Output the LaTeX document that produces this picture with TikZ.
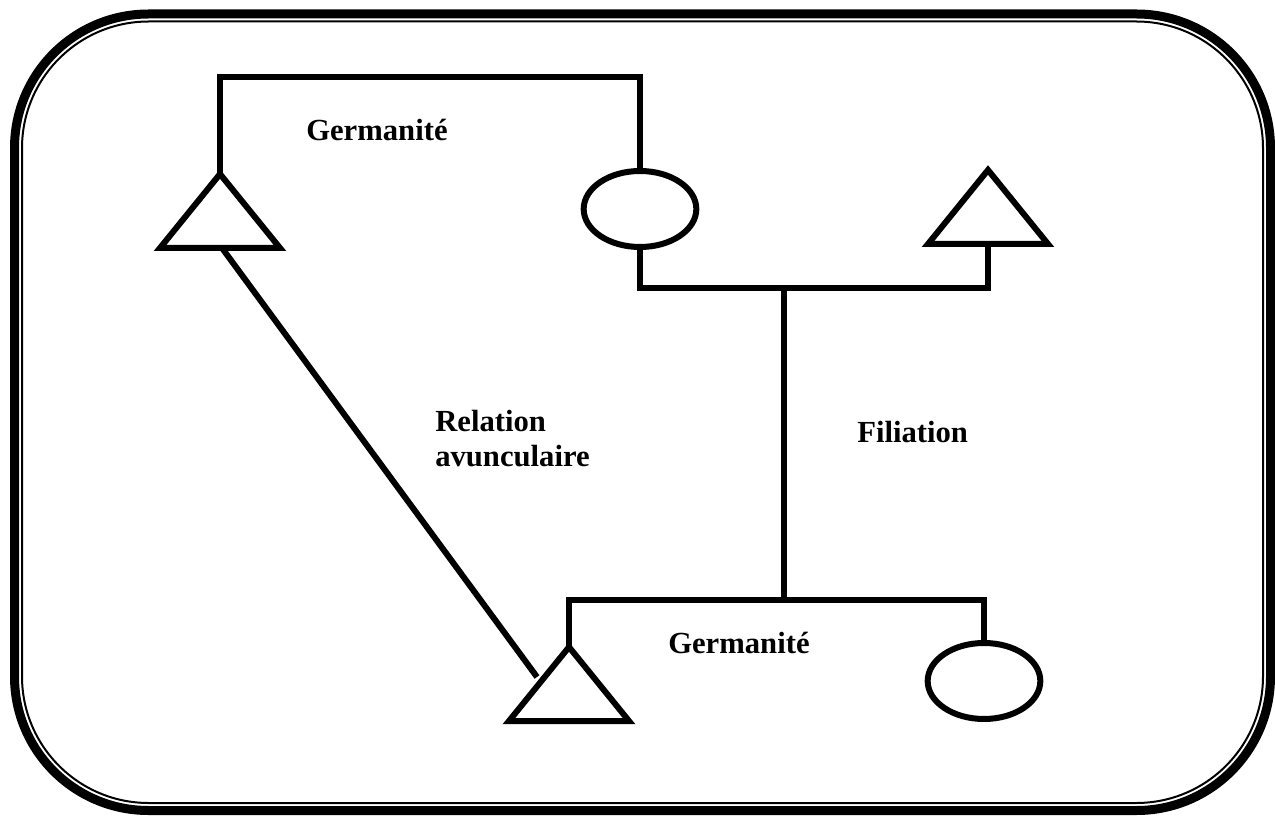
\documentclass[tikz,border=0pt]{standalone}
\usepackage{fontspec}
\setmainfont{Liberation Serif}
\usetikzlibrary{shapes.geometric}
\begin{document}
\begin{tikzpicture}[x=0.75pt,y=-0.75pt,
  ln/.style={line width=4.5pt, line join=miter},
  ell/.style={draw, ln, ellipse, minimum width=84.5pt, minimum height=57pt, inner sep=0pt, outer sep=0pt},
  lbl/.style={font=\bfseries\fontsize{23}{26.25}\selectfont, anchor=base west, inner sep=0pt, align=left}]
\useasboundingbox (0,0) rectangle (1275,816);
% frame
\draw[line width=6.75pt, rounded corners=100.5pt] (14.5,14) rectangle (1270.5,810.5);
\draw[line width=1.5pt, rounded corners=95pt] (22,21.5) rectangle (1263,803);
% triangles (apex and base centre)
\coordinate (t1) at (220,174); \coordinate (t1b) at (220,248);
\coordinate (t2) at (988,170); \coordinate (t2b) at (988,244);
\coordinate (t3) at (569,647); \coordinate (t3b) at (569,721);
\draw[ln] (t1) -- ++(60,74) -- ++(-120,0) -- cycle;
\draw[ln] (t2) -- ++(60,74) -- ++(-120,0) -- cycle;
\draw[ln] (t3) -- ++(60,74) -- ++(-120,0) -- cycle;
% ellipses
\node[ell] (e1) at (640,209) {};
\node[ell] (e2) at (984,681) {};
% connectors
\coordinate (k1) at (220,77);
\draw[ln] (t1) -- (k1) -| (e1.north);
\coordinate (k2) at (640,288);
\draw[ln] (e1.south) -- (k2) -| (t2b);
\coordinate (f1) at (784,288); \coordinate (f2) at (784,600);
\draw[ln] (f1) -- (f2);
\coordinate (k3) at (569,600);
\draw[ln] (t3) -- (k3) -| (e2.north);
\coordinate (d1) at (222,248); \coordinate (d2) at (537,677);
\draw[ln] (d1) -- (d2);
% labels
\node[lbl] (g1) at (306,141) {Germanité};
\node[lbl] (ra) at (435,467) {Relation\\avunculaire};
\node[lbl] (fi) at (857,443) {Filiation};
\node[lbl] (g2) at (668,653) {Germanité};
\end{tikzpicture}
\end{document}
